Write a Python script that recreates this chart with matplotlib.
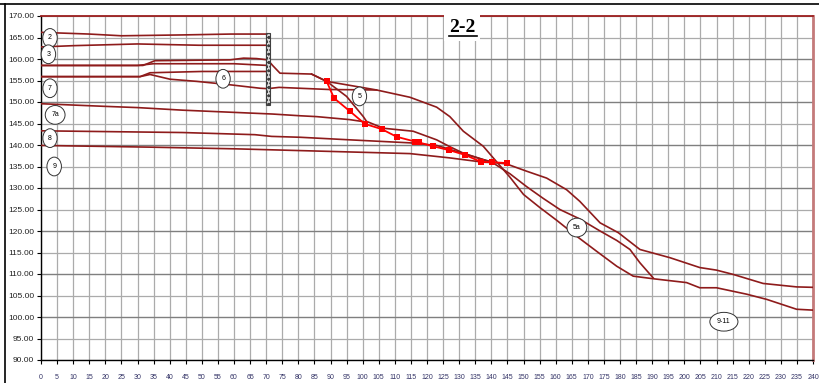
import numpy as np
import matplotlib
matplotlib.use('Agg')
import matplotlib.pyplot as plt
from matplotlib.patches import Rectangle
from matplotlib.lines import Line2D

plt.rcParams['font.family'] = ['Liberation Sans', 'DejaVu Sans']
plt.rcParams['hatch.linewidth'] = 0.7

# profile lines (station, elevation)
line2_x = [0, 15, 25, 44, 59, 71]
line2_y = [166.2, 165.8, 165.4, 165.6, 165.8, 165.8]

line3_x = [0, 10, 30, 49, 71]
line3_y = [162.8, 163.1, 163.5, 163.2, 163.2]

# upper line from 158.5, past the wall, crossing the bundle and down to the right
lineU_x = [0, 31.7, 35.4, 58.8, 63, 67, 70.5, 72, 74.3, 84.1, 88.8, 104.3, 114.7, 123,
           127.1, 131.3, 137.5, 140.6, 145.8, 150, 155, 160.3, 166.5, 172.7, 179, 184.1,
           190.3, 200.7, 204.8, 210, 219.4, 225.6, 234.9, 240]
lineU_y = [158.5, 158.5, 159.6, 159.8, 160.2, 160.1, 159.8, 158.5, 156.7, 156.5, 154.8,
           152.8, 151.1, 148.8, 146.6, 143.2, 139.7, 137.0, 132.5, 128.5, 125.5, 122.5,
           118.8, 115.3, 111.8, 109.5, 108.9, 108.0, 106.8, 106.8, 105.3, 104.1, 101.8, 101.6]

lineB_x = [0, 30, 35, 60, 70.5]
lineB_y = [158.5, 158.5, 158.9, 158.9, 158.5]

line7_x = [0, 30.8, 33.9, 50, 70.5]
line7_y = [155.9, 155.9, 156.8, 157.1, 157.1]

line6_x = [0, 30.8, 33.9, 40.1, 48.4, 58.8, 68.1, 70.5, 74, 89.8, 104.3]
line6_y = [155.9, 155.9, 156.4, 155.3, 154.8, 154.0, 153.2, 153.1, 153.4, 152.9, 152.8]

line5_x = [84.1, 88.8, 95, 100.2, 101.2, 106.4, 115.7, 123, 127.1, 131.3, 137.5, 140.6,
           145.8, 151, 156.1, 161.3, 167.5, 173.8, 179, 183.1, 186.2, 190.3]
line5_y = [156.5, 154.8, 151.3, 146.6, 145.5, 143.9, 143.2, 141.2, 139.6, 138.1, 136.6,
           135.8, 133.3, 130.3, 127.6, 125.0, 122.8, 120.0, 117.8, 115.7, 112.6, 109.1]

line7a_x = [0, 19.4, 30, 44, 59.6, 72, 80.5, 85.7, 96, 100.5]
line7a_y = [149.6, 149.0, 148.7, 148.1, 147.6, 147.2, 146.8, 146.6, 145.9, 145.4]

line8_x = [0, 44, 66.5, 71.7, 80.5, 96, 114.7, 123, 127.1, 131.3, 137.5, 140.6]
line8_y = [143.3, 142.9, 142.4, 142.0, 141.8, 141.2, 140.5, 139.9, 139.0, 138.0, 136.6, 136.0]

line9_x = [0, 33.9, 60.9, 80.5, 114.7, 127.1, 137.5, 141, 144.7, 151, 157.2, 163.4, 167.5,
           173.8, 179.5, 186.2, 195.5, 204.8, 210, 215.2, 224.5, 234.9, 240]
line9_y = [139.9, 139.5, 139.1, 138.7, 138.0, 137.0, 136.0, 135.9, 135.6, 133.9, 132.3,
           129.6, 126.9, 121.9, 119.6, 115.7, 113.8, 111.5, 110.9, 109.9, 107.8, 107.0, 106.9]

# red measured points
red_x = [88.8, 91.1, 96.1, 100.7, 105.9, 110.6, 116.3, 117.5, 121.9, 126.9, 131.8, 136.7, 140.1, 144.8]
red_y = [154.8, 150.9, 147.8, 144.9, 143.7, 141.9, 140.8, 140.6, 139.7, 138.8, 137.7, 136.1, 136.0, 135.8]

# ellipse labels
lab_text = ['2', '3', '7', '7a', '8', '9', '6', '5', '5a', '9-11']
lab_x = [2.8, 2.3, 2.8, 4.4, 2.8, 4.1, 56.6, 99.0, 166.6, 212.3]
lab_y = [164.9, 161.1, 153.2, 147.0, 141.6, 135.0, 155.4, 151.3, 120.8, 98.9]

W, H = 819, 383
fig = plt.figure(figsize=(W / 100, H / 100), dpi=100)
ax = fig.add_axes([41 / W, 1 - 360 / H, 772 / W, 344 / H])

ax.set_xlim(0, 240)
ax.set_ylim(90, 170)
ax.set_xticks(np.arange(0, 241, 5))
ax.set_yticks(np.arange(90, 171, 5))
ax.set_yticklabels(['%.2f' % v for v in np.arange(90, 171, 5)])

ax.set_axisbelow(True)
ax.grid(color='#ababab', lw=0.9)
for yv in range(100, 170, 10):
    ax.axhline(yv, color='#7f7f7f', lw=0.9, zorder=0.6)

brown = '#8e1b1b'
for xs, ys in [(line2_x, line2_y), (line3_x, line3_y), (lineB_x, lineB_y),
               (line7_x, line7_y), (line6_x, line6_y), (lineU_x, lineU_y),
               (line5_x, line5_y), (line7a_x, line7a_y), (line8_x, line8_y),
               (line9_x, line9_y)]:
    ax.plot(xs, ys, color=brown, lw=1.2, zorder=3)

ax.plot(red_x, red_y, color='#ff0000', lw=1.3, marker='s', markersize=4,
        markeredgewidth=0, zorder=4)

# wall
ax.add_patch(Rectangle((69.8, 149.4), 1.5, 16.6, facecolor='#d8d8d8',
                       edgecolor='#404040', hatch='oooo', lw=0.8, zorder=5))

for s, x, y in zip(lab_text, lab_x, lab_y):
    ax.text(x, y, s, fontsize=5, ha='center', va='center', zorder=6,
            bbox=dict(boxstyle='ellipse,pad=0.45', fc='white', ec='#333333', lw=0.7))

ax.text(131, 167.3, '2-2', fontsize=14, fontweight='bold', family='Liberation Serif',
        ha='center', va='center', zorder=7,
        bbox=dict(boxstyle='square,pad=0.25', fc='white', ec='none'))
fig.add_artist(Line2D([449 / W, 477 / W], [1 - 36 / H] * 2, color='black', lw=1.2))

for side in ['left', 'bottom']:
    ax.spines[side].set_color('black')
    ax.spines[side].set_linewidth(1.0)
ax.spines['top'].set_color('#9b1e1e')
ax.spines['top'].set_linewidth(1.3)
ax.spines['right'].set_color('#c47a7a')
ax.spines['right'].set_linewidth(2)

ax.tick_params(axis='both', direction='out', length=3, width=0.8, color='black')
ax.tick_params(axis='y', labelsize=6, pad=2, labelcolor='#222222')
ax.tick_params(axis='x', labelsize=5, pad=7, labelcolor='#333366')

# page frame lines
fig.add_artist(Line2D([0, 1], [1 - 4 / H] * 2, color='black', lw=1.2))
fig.add_artist(Line2D([5 / W] * 2, [0, 1 - 4 / H], color='black', lw=1.2))

fig.savefig('out.png', dpi=100)
